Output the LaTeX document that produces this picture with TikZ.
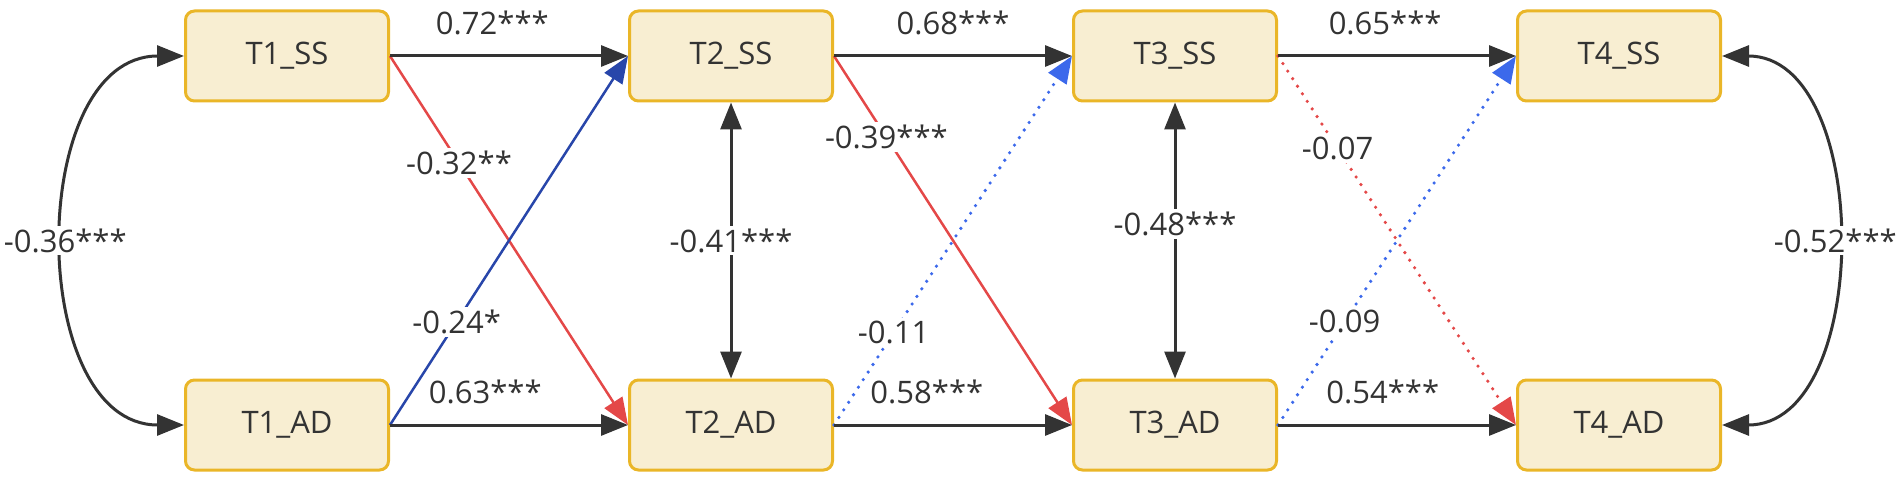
\documentclass[tikz,border=0pt]{standalone}
\usepackage{fontspec}
\setmainfont{Open Sans}
\usetikzlibrary{arrows.meta}
\definecolor{boxfill}{RGB}{248,238,210}
\definecolor{boxdraw}{RGB}{234,182,40}
\definecolor{ink}{RGB}{51,51,51}
\definecolor{redl}{RGB}{228,72,72}
\definecolor{bluel}{RGB}{40,70,170}
\definecolor{bluedot}{RGB}{60,105,235}
\begin{document}
\begin{tikzpicture}[x=1pt,y=1pt,
  >={Triangle[length=27pt,width=21pt]},
  var/.style={draw=boxdraw, line width=3pt, fill=boxfill, rounded corners=9pt,
    minimum width=203pt, minimum height=90pt, text=ink, font=\fontsize{31}{37}\selectfont},
  lab/.style={fill=white, text=ink, inner sep=3pt, font=\fontsize{31}{37}\selectfont},
  toplab/.style={text=ink, inner sep=0pt, font=\fontsize{31}{37}\selectfont, yshift=33pt},
  conn/.style={line width=3pt, color=ink, ->},
  cross/.style={line width=2.5pt, ->},
  dots/.style={line width=3.6pt, line cap=round, dash pattern=on 0pt off 9pt, ->},
]
\useasboundingbox (0,0) rectangle (1902,480);

\node[var] (T1SS) at (287,424) {T1\_SS};
\node[var] (T2SS) at (731,424) {T2\_SS};
\node[var] (T3SS) at (1175,424) {T3\_SS};
\node[var] (T4SS) at (1619,424) {T4\_SS};
\node[var] (T1AD) at (287,55) {T1\_AD};
\node[var] (T2AD) at (731,55) {T2\_AD};
\node[var] (T3AD) at (1175,55) {T3\_AD};
\node[var] (T4AD) at (1619,55) {T4\_AD};

% cross-lagged paths
\draw[cross, color=redl] (T1SS.east) -- node[lab, pos=0.29] {-0.32**} (T2AD.west);
\draw[cross, color=bluel] (T1AD.east) -- node[lab, pos=0.28] {-0.24*} (T2SS.west);
\draw[cross, color=redl] (T2SS.east) -- node[lab, pos=0.22] {-0.39***} (T3AD.west);
\draw[dots, color=bluedot] (T2AD.east) -- node[lab, pos=0.25] {-0.11} (T3SS.west);
\draw[dots, color=redl] (T3SS.east) -- node[lab, pos=0.25] {-0.07} (T4AD.west);
\draw[dots, color=bluedot] (T3AD.east) -- node[lab, pos=0.28] {-0.09} (T4SS.west);

% autoregressive paths
\draw[conn] (T1SS) -- node[toplab, pos=0.43] {0.72***} (T2SS);
\draw[conn] (T2SS) -- node[toplab, pos=0.5] {0.68***} (T3SS);
\draw[conn] (T3SS) -- node[toplab, pos=0.45] {0.65***} (T4SS);
\draw[conn] (T1AD) -- node[toplab, pos=0.40] {0.63***} (T2AD);
\draw[conn] (T2AD) -- node[toplab, pos=0.39] {0.58***} (T3AD);
\draw[conn] (T3AD) -- node[toplab, pos=0.44] {0.54***} (T4AD);

% covariances
\draw[conn, <->] (T2SS) -- node[lab, pos=0.5] {-0.41***} (T2AD);
\draw[conn, <->] (T3SS) -- node[lab, pos=0.44] {-0.48***} (T3AD);
\draw[conn, <->] (T1SS.west) to[out=180, in=180, looseness=1.1] node[lab] {-0.36***} (T1AD.west);
\draw[conn, <->] (T4SS.east) to[out=0, in=0, looseness=1.05] node[lab] {-0.52***} (T4AD.east);
\end{tikzpicture}
\end{document}
